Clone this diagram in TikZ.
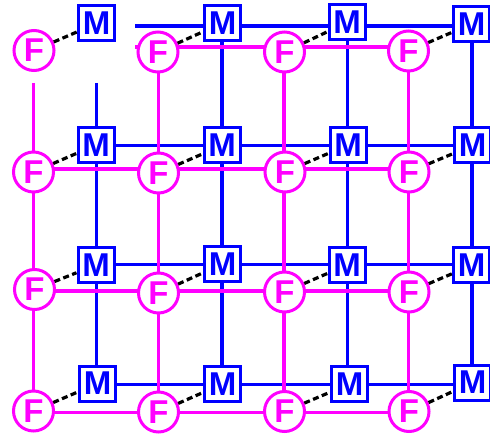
\documentclass[tikz,border=0pt]{standalone}
\usepackage{fontspec}
\setmainfont{Liberation Sans}
\usetikzlibrary{backgrounds}
\definecolor{mblue}{RGB}{0,0,255}
\definecolor{fmag}{RGB}{255,0,255}
\tikzset{
  fnode/.style={circle,draw=fmag,fill=white,line width=3pt,minimum size=40pt,inner sep=0pt,text=fmag,font=\bfseries\fontsize{33}{33}\selectfont},
  mnode/.style={rectangle,draw=mblue,fill=white,line width=3pt,minimum width=36pt,minimum height=35pt,inner sep=0pt,text=mblue,font=\bfseries\fontsize{33}{33}\selectfont},
  bline/.style={draw=mblue,line width=3.2pt},
  fline/.style={draw=fmag,line width=3.2pt},
  link/.style={draw=black,line width=3.2pt,dash pattern=on 6pt off 3.5pt}}
\begin{document}
\begin{tikzpicture}[x=1pt,y=-1pt]
\useasboundingbox (0,0) rectangle (490,438);
\clip (0,0) rectangle (490,438);
% F nodes
\foreach \n/\x/\y in {F11/34/50.5,F12/158/52,F13/284.5/52,F14/408.5/51,
  F21/33.5/172,F22/158.5/173,F23/285/172,F24/409/172,
  F31/34.5/289.5,F32/158.5/293,F33/284.5/292,F34/409/292,
  F41/33.5/411,F42/158.5/412,F43/284.5/411.5,F44/409/411.5}
  \node[fnode] (\n) at (\x,\y) {F};
% M nodes
\foreach \n/\x/\y in {M11/96.5/23.5,M12/222.5/23,M13/347/22.5,M14/471.5/24,
  M21/96/145,M22/222/145.5,M23/348/145,M24/472.5/145.5,
  M31/96/265,M32/222.5/264,M33/347/265,M34/471.5/265.5,
  M41/97.5/383.5,M42/222.5/384,M43/349.5/384,M44/472.5/382.5}
  \node[mnode] (\n) at (\x,\y) {M};
% helper coordinates
\coordinate (by1) at (0,26);   \coordinate (by2) at (0,145.5);
\coordinate (by3) at (0,264.5);\coordinate (by4) at (0,384.5);
\coordinate (bx1) at (96.5,0); \coordinate (bx2) at (222,0);
\coordinate (bx3) at (347.5,0);\coordinate (bx4) at (472,0);
\coordinate (fy1) at (0,47);   \coordinate (fy2) at (0,169);
\coordinate (fy3) at (0,291);  \coordinate (fy4) at (0,412.5);
\coordinate (fx1) at (33.5,0); \coordinate (fx2) at (158.3,0);
\coordinate (fx3) at (284,0);  \coordinate (fx4) at (408.5,0);
\coordinate (b0) at (135,26);  \coordinate (b1top) at (96.5,83);
\coordinate (f0) at (135,47);  \coordinate (f1top) at (33.5,83);
\begin{scope}[on background layer]
  % blue grid
  \draw[bline] (b0) -- (M14 |- by1);
  \draw[bline] (M21 |- by2) -- (M24 |- by2);
  \draw[bline] (M31 |- by3) -- (M34 |- by3);
  \draw[bline] (M41 |- by4) -- (M44 |- by4);
  \draw[bline] (b1top) -- (bx1 |- M41);
  \draw[bline] (bx2 |- M12) -- (bx2 |- M42);
  \draw[bline] (bx3 |- M13) -- (bx3 |- M43);
  \draw[bline] (bx4 |- M14) -- (bx4 |- M44);
  % magenta grid
  \draw[fline] (f0) -- (F14 |- fy1);
  \draw[fline] (F21 |- fy2) -- (F24 |- fy2);
  \draw[fline] (F31 |- fy3) -- (F34 |- fy3);
  \draw[fline] (F41 |- fy4) -- (F44 |- fy4);
  \draw[fline] (f1top) -- (fx1 |- F41);
  \draw[fline] (fx2 |- F12) -- (fx2 |- F42);
  \draw[fline] (fx3 |- F13) -- (fx3 |- F43);
  \draw[fline] (fx4 |- F14) -- (fx4 |- F44);
\end{scope}
% dashed links
\foreach \r in {1,2,3,4}{
  \foreach \c in {1,2,3,4}{
    \draw[link] (F\r\c) -- (M\r\c);
  }
}
\end{tikzpicture}
\end{document}
